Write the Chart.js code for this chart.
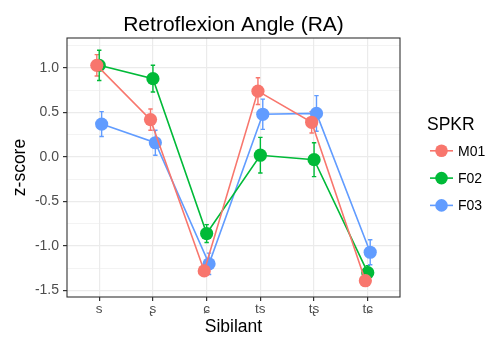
<!DOCTYPE html>
<html>
<head>
<meta charset="utf-8">
<script src="https://cdn.jsdelivr.net/npm/chart.js@4/dist/chart.umd.min.js"></script>
<style>
html,body{margin:0;padding:0;background:#fff;}
#wrap{width:490px;height:338px;position:relative;}
</style>
</head>
<body>
<div id="wrap"><canvas id="c" width="490" height="338"></canvas></div>
<script>
const categories = ['s', 'ʂ', 'ɕ', 'ts', 'tʂ', 'tɕ'];
const speakers = ['M01', 'F02', 'F03'];
const m01 = [1.03, 0.42, -1.28, 0.74, 0.39, -1.39];
const m01Err = [0.12, 0.12, 0.04, 0.15, 0.12, 0.04];
const f02 = [1.03, 0.88, -0.86, 0.02, -0.03, -1.30];
const f02Err = [0.17, 0.15, 0.10, 0.20, 0.19, 0.08];
const f03 = [0.37, 0.16, -1.20, 0.48, 0.49, -1.07];
const f03Err = [0.14, 0.14, 0.12, 0.17, 0.20, 0.14];
const yTicks = [-1.5, -1.25, -1.0, -0.75, -0.5, -0.25, 0, 0.25, 0.5, 0.75, 1.0, 1.25];

const colors = ['#F8766D', '#00BA38', '#619CFF'];
const values = [m01, f02, f03];
const errs = [m01Err, f02Err, f03Err];
const dodge = [-0.045, 0, 0.045];
const FONT = "'Liberation Sans', Arial, 'DejaVu Sans', sans-serif";

const datasets = speakers.map((s, k) => ({
  label: s,
  data: values[k].map((v, i) => ({x: i + dodge[k], y: v, e: errs[k][i]})),
  borderColor: colors[k],
  backgroundColor: colors[k],
  pointBackgroundColor: colors[k],
  pointBorderWidth: 0,
  pointRadius: 6.6,
  pointHoverRadius: 6.6,
  borderWidth: 1.6,
  tension: 0,
  fill: false
}));

const isMajor = v => Math.abs(v * 2 - Math.round(v * 2)) < 1e-6;

const errorBars = {
  id: 'errorBars',
  beforeDatasetsDraw(chart) {
    const ctx = chart.ctx;
    const xs = chart.scales.x, ys = chart.scales.y;
    ctx.save();
    chart.data.datasets.forEach((ds, k) => {
      ctx.strokeStyle = ds.borderColor;
      ctx.lineWidth = 1.4;
      ds.data.forEach(p => {
        const x = xs.getPixelForValue(p.x);
        const y1 = ys.getPixelForValue(p.y + p.e);
        const y2 = ys.getPixelForValue(p.y - p.e);
        ctx.beginPath();
        ctx.moveTo(x, y1); ctx.lineTo(x, y2);
        ctx.moveTo(x - 2.2, y1); ctx.lineTo(x + 2.2, y1);
        ctx.moveTo(x - 2.2, y2); ctx.lineTo(x + 2.2, y2);
        ctx.stroke();
      });
    });
    ctx.restore();
  }
};

const decor = {
  id: 'decor',
  afterDraw(chart) {
    const ctx = chart.ctx;
    const a = chart.chartArea;
    ctx.save();
    ctx.strokeStyle = '#333333';
    ctx.lineWidth = 1.1;
    ctx.strokeRect(a.left, a.top, a.right - a.left, a.bottom - a.top);
    // title
    ctx.fillStyle = '#000';
    ctx.font = '21px ' + FONT;
    ctx.textAlign = 'center';
    ctx.textBaseline = 'alphabetic';
    ctx.fillText('Retroflexion Angle (RA)', (a.left + a.right) / 2, 30.5);
    // legend
    ctx.textAlign = 'left';
    ctx.font = '17.5px ' + FONT;
    ctx.fillText('SPKR', 427, 129.5);
    ctx.font = '14px ' + FONT;
    speakers.forEach((s, k) => {
      const y = 150.8 + k * 27.3;
      ctx.strokeStyle = colors[k];
      ctx.lineWidth = 1.6;
      ctx.beginPath(); ctx.moveTo(430, y); ctx.lineTo(453, y); ctx.stroke();
      ctx.fillStyle = colors[k];
      ctx.beginPath(); ctx.arc(441.5, y, 6.3, 0, Math.PI * 2); ctx.fill();
      ctx.fillStyle = '#000';
      ctx.fillText(s, 458, y + 5);
    });
    ctx.restore();
  }
};

new Chart(document.getElementById('c'), {
  type: 'line',
  data: {datasets},
  plugins: [errorBars, decor],
  options: {
    responsive: false,
    animation: false,
    events: [],
    layout: {padding: {top: 38, right: 90, left: 0, bottom: 0}},
    plugins: {legend: {display: false}, tooltip: {enabled: false}, title: {display: false}},
    scales: {
      x: {
        type: 'linear',
        min: -0.6, max: 5.6,
        afterBuildTicks: s => { s.ticks = categories.map((c, i) => ({value: i})); },
        afterFit: s => { s.height = 41; },
        ticks: {
          autoSkip: false, maxRotation: 0,
          callback: v => categories[v],
          color: '#4D4D4D', font: {family: FONT, size: 13.5}, padding: 0
        },
        grid: {color: '#EBEBEB', lineWidth: 1.2, tickColor: '#333333', tickLength: 4, drawTicks: true},
        border: {display: false},
        title: {display: true, text: 'Sibilant', color: '#000', font: {family: FONT, size: 17.5}, padding: {top: 0, bottom: 0}}
      },
      y: {
        type: 'linear',
        min: -1.573, max: 1.337,
        afterBuildTicks: s => { s.ticks = yTicks.map(v => ({value: v})); },
        afterFit: s => { s.width = 67; },
        ticks: {
          autoSkip: false,
          callback: v => isMajor(v) ? v.toFixed(1) : '',
          color: '#4D4D4D', font: {family: FONT, size: 14}, padding: 4
        },
        grid: {
          color: '#EBEBEB',
          lineWidth: c => (c.tick && isMajor(c.tick.value)) ? 1.2 : 0.6,
          tickColor: c => (c.tick && isMajor(c.tick.value)) ? '#333333' : 'rgba(0,0,0,0)',
          tickLength: 4
        },
        border: {display: false},
        title: {display: true, text: 'z-score', color: '#000', font: {family: FONT, size: 17.5}, padding: {top: 10, bottom: 0}}
      }
    }
  }
});
</script>
</body>
</html>
